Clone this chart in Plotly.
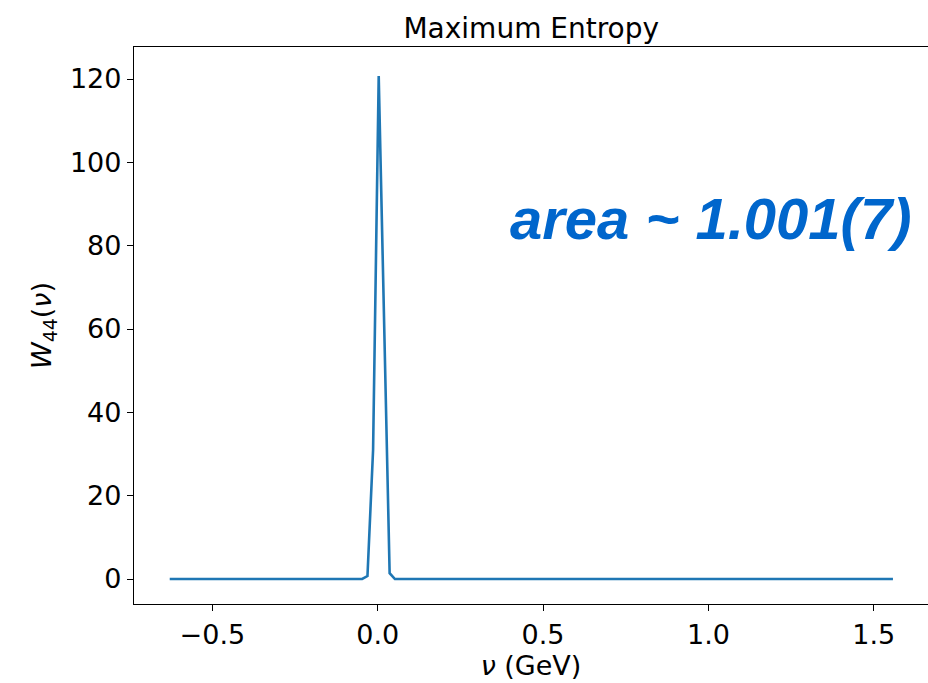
import plotly.graph_objects as go

# Data (vertices of the spectral function)
nu = [-0.629, -0.047, -0.031, -0.014, 0.003, 0.036, 0.052, 1.558]
w44 = [0.0, 0.0, 0.7, 31.0, 120.7, 1.4, 0.0, 0.0]

x_ticks = [-0.5, 0.0, 0.5, 1.0, 1.5]
x_ticklabels = ["−0.5", "0.0", "0.5", "1.0", "1.5"]
y_ticks = [0, 20, 40, 60, 80, 100, 120]

fig = go.Figure()
fig.add_trace(go.Scatter(x=nu, y=w44, mode="lines",
                         line=dict(color="#1f77b4", width=2.6),
                         showlegend=False))

font = "DejaVu Sans"
axis_common = dict(showline=True, linecolor="black", linewidth=1.3, mirror=True,
                   ticks="outside", ticklen=6, tickwidth=1.3, tickcolor="black",
                   showgrid=False, zeroline=False,
                   tickfont=dict(family=font, size=27, color="black"))

fig.update_layout(
    width=928, height=683,
    margin=dict(l=134, r=0, t=47, b=79),
    plot_bgcolor="white", paper_bgcolor="white",
    title=dict(text="Maximum Entropy", x=0.5725, xanchor="center",
               y=1 - 28 / 683, yanchor="middle",
               font=dict(family=font, size=28, color="black")),
    xaxis=dict(range=[-0.737, 1.664], tickvals=x_ticks, ticktext=x_ticklabels,
               title=dict(text="<i>ν</i> (GeV)", standoff=6,
                          font=dict(family=font, size=27, color="black")),
               **axis_common),
    yaxis=dict(range=[-6.0, 127.68], tickvals=y_ticks,
               title=dict(text="<i>W</i><sub>44</sub>(<i>ν</i>)", standoff=10,
                          font=dict(family=font, size=27, color="black")),
               **axis_common),
)

fig.add_annotation(text="<b><i>area ~ 1.001(7)</i></b>",
                   xref="paper", yref="paper",
                   x=(710 - 134) / 794, y=(604 - 218) / 557,
                   xanchor="center", yanchor="middle", showarrow=False,
                   font=dict(family="Liberation Sans", size=58, color="#0066cc"))

fig.write_html("out.html")
